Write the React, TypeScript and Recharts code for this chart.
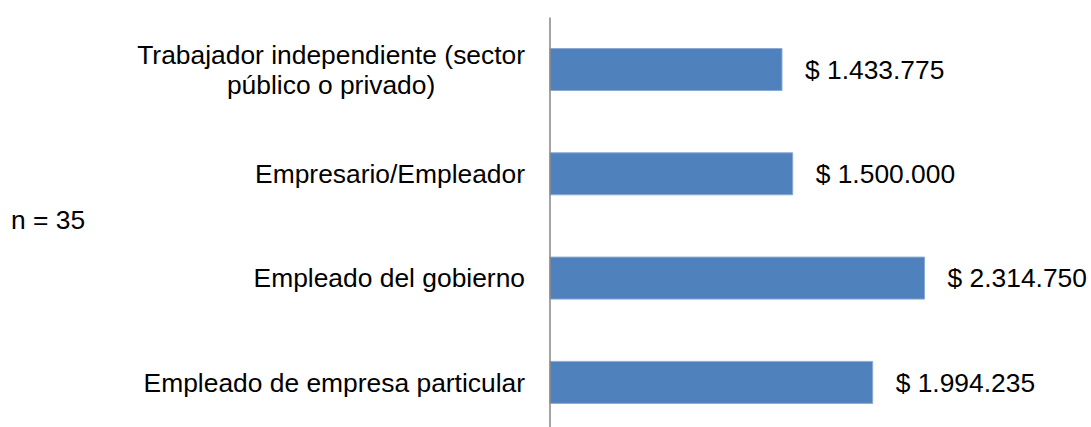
import { BarChart, Bar, XAxis, YAxis, LabelList } from "recharts"

const categories = [
  "Trabajador independiente (sector\npúblico o privado)",
  "Empresario/Empleador",
  "Empleado del gobierno",
  "Empleado de empresa particular",
]
const ingresos = [1433775, 1500000, 2314750, 1994235]
const nLabel = "n = 35"

const FONT = "'Liberation Sans', Arial, sans-serif"
const FONT_SIZE = 26.4

const chartData = categories.map((name, i) => ({ name, value: ingresos[i] }))

// $ 1.433.775 style
const formatPesos = (v: number) =>
  "$ " + String(Math.round(v)).replace(/\B(?=(\d{3})+(?!\d))/g, ".")

let ctx: CanvasRenderingContext2D | null = null
const textWidth = (s: string) => {
  if (!ctx) ctx = document.createElement("canvas").getContext("2d")
  if (!ctx) return s.length * FONT_SIZE * 0.5
  ctx.font = `${FONT_SIZE}px ${FONT}`
  return ctx.measureText(s).width
}

// wrapped labels are centred on each other, block right-aligned to the axis
function CategoryTick(props: any) {
  const { x, y, payload } = props
  const lines: string[] = String(payload.value).split("\n")
  const lineHeight = 30
  const startDy = -((lines.length - 1) * lineHeight) / 2
  const multi = lines.length > 1
  const blockW = multi ? Math.max(...lines.map(textWidth)) : 0
  const cx = multi ? x - blockW / 2 : x
  return (
    <text
      x={cx}
      y={y}
      textAnchor={multi ? "middle" : "end"}
      fill="#000"
      fontSize={FONT_SIZE}
      fontFamily={FONT}
      dominantBaseline="central"
    >
      {lines.map((line, i) => (
        <tspan key={i} x={cx} dy={i === 0 ? startDy : lineHeight}>
          {line}
        </tspan>
      ))}
    </text>
  )
}

export default function App() {
  return (
    <div
      style={{
        position: "absolute",
        left: 0,
        top: 0,
        width: 1091,
        height: 427,
        overflow: "hidden",
        background: "#fff",
      }}
    >
      <div
        style={{
          position: "absolute",
          left: 11,
          top: 205,
          fontSize: FONT_SIZE,
          fontFamily: FONT,
          color: "#000",
          whiteSpace: "nowrap",
        }}
      >
        {nLabel}
      </div>
      <BarChart
        width={1091}
        height={440}
        data={chartData}
        layout="vertical"
        margin={{ top: 17.5, right: 55.6, bottom: 5.3, left: 0 }}
      >
        <XAxis type="number" domain={[0, 3000000]} hide />
        <YAxis
          type="category"
          dataKey="name"
          width={550}
          tickLine={false}
          tickSize={0}
          tickMargin={25}
          axisLine={{ stroke: "#868686", strokeWidth: 1.5 }}
          tick={<CategoryTick />}
          interval={0}
        />
        <Bar
          dataKey="value"
          fill="#4F81BD"
          stroke="#8aaad6"
          strokeWidth={1}
          barSize={42}
          isAnimationActive={false}
        >
          <LabelList
            dataKey="value"
            position="right"
            offset={23}
            formatter={(v: any) => formatPesos(Number(v))}
            fill="#000"
            fontSize={FONT_SIZE}
            fontFamily={FONT}
          />
        </Bar>
      </BarChart>
    </div>
  )
}
